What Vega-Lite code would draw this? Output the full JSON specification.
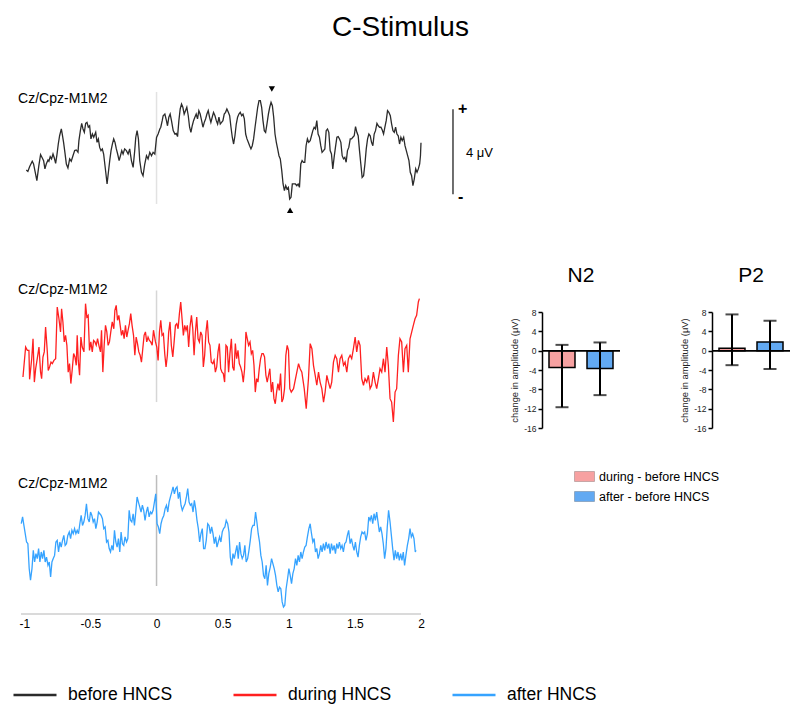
{
"$schema":"https://vega.github.io/schema/vega-lite/v6.json",
"padding":{"left":12,"top":14,"right":5,"bottom":5},
"title":{"text":"C-Stimulus","fontSize":28,"fontWeight":"normal","color":"black","anchor":"start","frame":"group","offset":44,"dx":311},
"bounds":"flush",
"center":true,
"spacing":92,
"config":{"view":{"stroke":null},"font":"Liberation Sans","axis":{"grid":false},"text":{"font":"Liberation Sans","color":"black"},"title":{"font":"Liberation Sans"}},
"datasets":{
"before":[{"t":-0.985,"v":-1.08},{"t":-0.973,"v":-1.15},{"t":-0.96,"v":-0.93},{"t":-0.94,"v":-0.67},{"t":-0.93,"v":-0.8},{"t":-0.915,"v":-1.27},{"t":-0.905,"v":-1.58},{"t":-0.89,"v":-0.88},{"t":-0.877,"v":-0.36},{"t":-0.864,"v":-0.52},{"t":-0.854,"v":-0.64},{"t":-0.844,"v":-1.03},{"t":-0.834,"v":-0.8},{"t":-0.821,"v":-0.61},{"t":-0.814,"v":-0.67},{"t":-0.804,"v":-0.45},{"t":-0.794,"v":-0.56},{"t":-0.783,"v":-0.33},{"t":-0.773,"v":-0.52},{"t":-0.763,"v":-0.77},{"t":-0.753,"v":-0.36},{"t":-0.743,"v":0.14},{"t":-0.733,"v":0.53},{"t":-0.72,"v":0.85},{"t":-0.713,"v":0.61},{"t":-0.703,"v":0.22},{"t":-0.693,"v":-0.25},{"t":-0.682,"v":-0.8},{"t":-0.67,"v":-0.99},{"t":-0.657,"v":-0.56},{"t":-0.645,"v":-0.67},{"t":-0.632,"v":-0.41},{"t":-0.619,"v":-0.17},{"t":-0.607,"v":-0.14},{"t":-0.594,"v":-0.25},{"t":-0.587,"v":0.3},{"t":-0.576,"v":0.77},{"t":-0.566,"v":1.11},{"t":-0.556,"v":0.85},{"t":-0.546,"v":0.69},{"t":-0.536,"v":1.11},{"t":-0.526,"v":1.16},{"t":-0.516,"v":0.93},{"t":-0.506,"v":1.0},{"t":-0.496,"v":0.38},{"t":-0.485,"v":0.61},{"t":-0.475,"v":0.46},{"t":-0.46,"v":0.69},{"t":-0.45,"v":0.22},{"t":-0.44,"v":0.38},{"t":-0.43,"v":-0.02},{"t":-0.42,"v":-0.17},{"t":-0.41,"v":-0.09},{"t":-0.4,"v":-0.33},{"t":-0.384,"v":-1.19},{"t":-0.374,"v":-1.74},{"t":-0.364,"v":-1.19},{"t":-0.354,"v":-0.64},{"t":-0.344,"v":-0.17},{"t":-0.334,"v":0.14},{"t":-0.324,"v":0.38},{"t":-0.314,"v":0.22},{"t":-0.304,"v":-0.09},{"t":-0.294,"v":-0.33},{"t":-0.283,"v":-0.64},{"t":-0.273,"v":-0.41},{"t":-0.263,"v":-0.17},{"t":-0.253,"v":-0.33},{"t":-0.241,"v":-0.09},{"t":-0.228,"v":-0.17},{"t":-0.215,"v":-0.33},{"t":-0.203,"v":-0.09},{"t":-0.19,"v":-0.64},{"t":-0.177,"v":-0.96},{"t":-0.165,"v":-0.17},{"t":-0.157,"v":0.46},{"t":-0.147,"v":0.77},{"t":-0.137,"v":0.38},{"t":-0.127,"v":-0.64},{"t":-0.114,"v":-1.19},{"t":-0.102,"v":-1.35},{"t":-0.089,"v":-0.8},{"t":-0.076,"v":-0.41},{"t":-0.064,"v":-0.56},{"t":-0.051,"v":-0.25},{"t":-0.038,"v":-0.41},{"t":-0.026,"v":-0.25},{"t":-0.013,"v":-0.33},{"t":0.0,"v":0.45},{"t":0.012,"v":0.61},{"t":0.025,"v":0.85},{"t":0.032,"v":0.93},{"t":0.043,"v":1.24},{"t":0.05,"v":1.47},{"t":0.063,"v":1.55},{"t":0.075,"v":1.24},{"t":0.083,"v":1.0},{"t":0.093,"v":1.4},{"t":0.103,"v":1.55},{"t":0.113,"v":1.24},{"t":0.126,"v":0.77},{"t":0.139,"v":0.61},{"t":0.149,"v":0.64},{"t":0.159,"v":0.49},{"t":0.169,"v":1.24},{"t":0.179,"v":1.79},{"t":0.189,"v":2.02},{"t":0.199,"v":1.87},{"t":0.209,"v":1.55},{"t":0.219,"v":1.71},{"t":0.229,"v":1.87},{"t":0.24,"v":1.47},{"t":0.25,"v":0.93},{"t":0.26,"v":0.69},{"t":0.27,"v":1.0},{"t":0.28,"v":1.24},{"t":0.29,"v":1.4},{"t":0.3,"v":1.55},{"t":0.31,"v":1.32},{"t":0.32,"v":1.71},{"t":0.33,"v":1.55},{"t":0.341,"v":1.24},{"t":0.351,"v":0.93},{"t":0.361,"v":1.16},{"t":0.371,"v":1.32},{"t":0.381,"v":1.55},{"t":0.391,"v":1.71},{"t":0.401,"v":1.4},{"t":0.411,"v":1.16},{"t":0.421,"v":1.4},{"t":0.431,"v":1.63},{"t":0.442,"v":1.47},{"t":0.452,"v":1.24},{"t":0.462,"v":1.08},{"t":0.472,"v":1.4},{"t":0.482,"v":1.08},{"t":0.492,"v":1.16},{"t":0.502,"v":1.24},{"t":0.512,"v":1.55},{"t":0.522,"v":1.63},{"t":0.532,"v":1.79},{"t":0.543,"v":1.63},{"t":0.553,"v":1.47},{"t":0.563,"v":0.93},{"t":0.573,"v":0.46},{"t":0.583,"v":0.14},{"t":0.593,"v":0.53},{"t":0.603,"v":1.08},{"t":0.613,"v":1.4},{"t":0.623,"v":1.55},{"t":0.633,"v":1.63},{"t":0.644,"v":1.47},{"t":0.654,"v":1.55},{"t":0.664,"v":1.32},{"t":0.674,"v":0.61},{"t":0.684,"v":0.38},{"t":0.694,"v":0.22},{"t":0.704,"v":0.06},{"t":0.714,"v":-0.09},{"t":0.724,"v":0.06},{"t":0.734,"v":0.38},{"t":0.745,"v":0.93},{"t":0.755,"v":1.4},{"t":0.765,"v":1.87},{"t":0.775,"v":2.18},{"t":0.785,"v":2.18},{"t":0.795,"v":1.87},{"t":0.805,"v":1.24},{"t":0.815,"v":0.77},{"t":0.825,"v":0.69},{"t":0.835,"v":1.08},{"t":0.846,"v":1.55},{"t":0.856,"v":1.87},{"t":0.866,"v":2.1},{"t":0.876,"v":1.94},{"t":0.886,"v":1.4},{"t":0.896,"v":0.61},{"t":0.906,"v":0.22},{"t":0.916,"v":-0.09},{"t":0.926,"v":-0.41},{"t":0.936,"v":-0.56},{"t":0.947,"v":-1.11},{"t":0.957,"v":-1.74},{"t":0.967,"v":-2.05},{"t":0.977,"v":-1.82},{"t":0.987,"v":-1.98},{"t":0.997,"v":-1.9},{"t":1.007,"v":-2.45},{"t":1.017,"v":-2.37},{"t":1.027,"v":-1.74},{"t":1.05,"v":-1.74},{"t":1.061,"v":-1.82},{"t":1.071,"v":-1.74},{"t":1.081,"v":-1.9},{"t":1.091,"v":-0.8},{"t":1.101,"v":-0.64},{"t":1.111,"v":-0.72},{"t":1.121,"v":-0.72},{"t":1.131,"v":0.06},{"t":1.141,"v":0.38},{"t":1.151,"v":0.22},{"t":1.162,"v":0.3},{"t":1.172,"v":0.53},{"t":1.182,"v":0.77},{"t":1.192,"v":0.93},{"t":1.202,"v":0.85},{"t":1.212,"v":1.24},{"t":1.222,"v":0.61},{"t":1.232,"v":0.46},{"t":1.242,"v":0.06},{"t":1.252,"v":-0.25},{"t":1.263,"v":-0.17},{"t":1.273,"v":-0.09},{"t":1.283,"v":0.77},{"t":1.293,"v":0.85},{"t":1.303,"v":0.69},{"t":1.313,"v":-0.17},{"t":1.323,"v":-0.33},{"t":1.333,"v":-1.03},{"t":1.343,"v":-0.49},{"t":1.353,"v":-0.02},{"t":1.364,"v":0.46},{"t":1.374,"v":0.49},{"t":1.384,"v":0.38},{"t":1.394,"v":0.22},{"t":1.404,"v":-0.41},{"t":1.414,"v":-0.56},{"t":1.424,"v":-0.49},{"t":1.434,"v":-0.72},{"t":1.444,"v":-0.17},{"t":1.454,"v":-0.02},{"t":1.465,"v":0.38},{"t":1.475,"v":0.38},{"t":1.485,"v":0.46},{"t":1.495,"v":0.53},{"t":1.505,"v":0.96},{"t":1.515,"v":0.69},{"t":1.525,"v":0.53},{"t":1.535,"v":-0.17},{"t":1.545,"v":-0.8},{"t":1.555,"v":-1.43},{"t":1.566,"v":-1.35},{"t":1.576,"v":-0.8},{"t":1.586,"v":-0.09},{"t":1.596,"v":0.38},{"t":1.606,"v":0.61},{"t":1.616,"v":0.53},{"t":1.626,"v":0.22},{"t":1.636,"v":0.06},{"t":1.646,"v":0.61},{"t":1.656,"v":0.77},{"t":1.667,"v":1.11},{"t":1.677,"v":1.0},{"t":1.687,"v":0.93},{"t":1.697,"v":0.93},{"t":1.707,"v":0.8},{"t":1.717,"v":0.61},{"t":1.727,"v":0.93},{"t":1.737,"v":1.24},{"t":1.747,"v":1.71},{"t":1.757,"v":1.63},{"t":1.768,"v":1.47},{"t":1.778,"v":1.08},{"t":1.788,"v":0.77},{"t":1.798,"v":0.69},{"t":1.808,"v":0.93},{"t":1.818,"v":0.61},{"t":1.828,"v":0.53},{"t":1.838,"v":0.14},{"t":1.848,"v":0.46},{"t":1.858,"v":0.3},{"t":1.869,"v":0.46},{"t":1.879,"v":0.06},{"t":1.889,"v":-0.17},{"t":1.899,"v":-0.41},{"t":1.909,"v":-0.64},{"t":1.919,"v":-1.19},{"t":1.929,"v":-1.35},{"t":1.939,"v":-1.82},{"t":1.949,"v":-1.51},{"t":1.96,"v":-1.03},{"t":1.97,"v":-1.19},{"t":1.98,"v":-1.03},{"t":1.99,"v":-0.8},{"t":1.996,"v":-0.41},{"t":2.0,"v":0.2}],
"during":[{"t":-1.01,"v":-0.94},{"t":-0.99,"v":0.47},{"t":-0.977,"v":0.31},{"t":-0.965,"v":0.31},{"t":-0.96,"v":-1.05},{"t":-0.944,"v":-0.08},{"t":-0.934,"v":0.86},{"t":-0.924,"v":-1.18},{"t":-0.914,"v":-0.55},{"t":-0.902,"v":-0.08},{"t":-0.889,"v":0.47},{"t":-0.877,"v":-0.71},{"t":-0.869,"v":-1.02},{"t":-0.859,"v":0.0},{"t":-0.849,"v":0.24},{"t":-0.839,"v":1.41},{"t":-0.826,"v":0.24},{"t":-0.819,"v":-0.63},{"t":-0.809,"v":-0.47},{"t":-0.798,"v":-0.24},{"t":-0.788,"v":-0.31},{"t":-0.776,"v":-0.16},{"t":-0.763,"v":-0.08},{"t":-0.751,"v":2.35},{"t":-0.738,"v":1.8},{"t":-0.726,"v":1.18},{"t":-0.718,"v":2.27},{"t":-0.708,"v":1.65},{"t":-0.698,"v":0.71},{"t":-0.688,"v":1.02},{"t":-0.678,"v":0.55},{"t":-0.668,"v":-0.71},{"t":-0.658,"v":-0.31},{"t":-0.648,"v":-1.25},{"t":-0.637,"v":-0.55},{"t":-0.627,"v":0.16},{"t":-0.617,"v":0.0},{"t":-0.607,"v":-0.39},{"t":-0.6,"v":1.02},{"t":-0.592,"v":-0.16},{"t":-0.582,"v":-0.86},{"t":-0.572,"v":0.94},{"t":-0.562,"v":0.47},{"t":-0.549,"v":0.24},{"t":-0.537,"v":2.51},{"t":-0.527,"v":1.88},{"t":-0.517,"v":1.96},{"t":-0.507,"v":0.31},{"t":-0.497,"v":0.71},{"t":-0.486,"v":0.24},{"t":-0.476,"v":0.78},{"t":-0.466,"v":0.71},{"t":-0.456,"v":0.55},{"t":-0.446,"v":0.86},{"t":-0.436,"v":0.55},{"t":-0.424,"v":0.24},{"t":-0.416,"v":1.26},{"t":-0.406,"v":-0.71},{"t":-0.396,"v":0.55},{"t":-0.386,"v":1.49},{"t":-0.376,"v":1.18},{"t":-0.366,"v":0.55},{"t":-0.356,"v":0.71},{"t":-0.346,"v":1.18},{"t":-0.335,"v":1.65},{"t":-0.323,"v":1.33},{"t":-0.315,"v":2.2},{"t":-0.305,"v":2.43},{"t":-0.295,"v":1.73},{"t":-0.285,"v":1.96},{"t":-0.275,"v":1.49},{"t":-0.265,"v":1.02},{"t":-0.255,"v":1.26},{"t":-0.245,"v":0.86},{"t":-0.235,"v":1.49},{"t":-0.225,"v":0.94},{"t":-0.215,"v":1.26},{"t":-0.205,"v":1.57},{"t":-0.195,"v":2.04},{"t":-0.185,"v":1.49},{"t":-0.174,"v":1.02},{"t":-0.164,"v":0.08},{"t":-0.154,"v":0.94},{"t":-0.144,"v":0.63},{"t":-0.134,"v":0.24},{"t":-0.124,"v":0.08},{"t":-0.114,"v":-0.24},{"t":-0.104,"v":0.39},{"t":-0.094,"v":1.02},{"t":-0.084,"v":1.18},{"t":-0.074,"v":0.71},{"t":-0.064,"v":0.94},{"t":-0.054,"v":0.78},{"t":-0.044,"v":0.71},{"t":-0.033,"v":0.55},{"t":-0.023,"v":1.26},{"t":-0.008,"v":0.71},{"t":0.002,"v":0.47},{"t":0.012,"v":-0.16},{"t":0.022,"v":1.18},{"t":0.032,"v":1.73},{"t":0.042,"v":1.02},{"t":0.052,"v":1.1},{"t":0.062,"v":0.16},{"t":0.072,"v":-0.47},{"t":0.082,"v":0.08},{"t":0.092,"v":1.18},{"t":0.102,"v":1.65},{"t":0.112,"v":0.55},{"t":0.123,"v":0.0},{"t":0.133,"v":0.71},{"t":0.143,"v":1.49},{"t":0.153,"v":1.57},{"t":0.163,"v":1.33},{"t":0.173,"v":2.04},{"t":0.183,"v":2.59},{"t":0.193,"v":1.8},{"t":0.203,"v":1.02},{"t":0.213,"v":1.49},{"t":0.223,"v":1.26},{"t":0.233,"v":1.49},{"t":0.243,"v":0.47},{"t":0.253,"v":1.41},{"t":0.264,"v":1.96},{"t":0.274,"v":1.33},{"t":0.284,"v":0.08},{"t":0.294,"v":1.18},{"t":0.304,"v":1.88},{"t":0.314,"v":0.86},{"t":0.324,"v":0.71},{"t":0.334,"v":1.18},{"t":0.344,"v":1.02},{"t":0.354,"v":-0.47},{"t":0.364,"v":0.08},{"t":0.374,"v":1.18},{"t":0.384,"v":1.73},{"t":0.394,"v":0.71},{"t":0.404,"v":0.55},{"t":0.414,"v":-0.24},{"t":0.425,"v":-0.31},{"t":0.435,"v":-0.16},{"t":0.445,"v":-0.71},{"t":0.455,"v":-0.47},{"t":0.465,"v":0.24},{"t":0.475,"v":0.63},{"t":0.485,"v":-0.55},{"t":0.495,"v":-0.71},{"t":0.505,"v":-0.78},{"t":0.515,"v":-1.18},{"t":0.525,"v":0.55},{"t":0.535,"v":0.47},{"t":0.545,"v":-0.71},{"t":0.555,"v":0.16},{"t":0.566,"v":0.86},{"t":0.576,"v":-0.47},{"t":0.586,"v":-0.63},{"t":0.596,"v":0.63},{"t":0.606,"v":-0.08},{"t":0.616,"v":0.31},{"t":0.626,"v":-0.31},{"t":0.636,"v":-0.47},{"t":0.646,"v":-0.71},{"t":0.656,"v":-1.18},{"t":0.666,"v":-0.55},{"t":0.676,"v":1.18},{"t":0.686,"v":0.86},{"t":0.696,"v":0.55},{"t":0.707,"v":0.71},{"t":0.717,"v":0.16},{"t":0.727,"v":0.31},{"t":0.737,"v":-0.39},{"t":0.747,"v":-1.65},{"t":0.757,"v":-1.02},{"t":0.767,"v":-1.18},{"t":0.777,"v":-0.55},{"t":0.787,"v":-0.08},{"t":0.797,"v":0.16},{"t":0.807,"v":0.16},{"t":0.817,"v":0.0},{"t":0.827,"v":-0.86},{"t":0.837,"v":-1.18},{"t":0.847,"v":-0.86},{"t":0.857,"v":-0.55},{"t":0.868,"v":-1.65},{"t":0.878,"v":-1.18},{"t":0.888,"v":-1.96},{"t":0.898,"v":-2.2},{"t":0.908,"v":-1.65},{"t":0.918,"v":-1.25},{"t":0.928,"v":-1.57},{"t":0.938,"v":-0.78},{"t":0.948,"v":-2.12},{"t":0.958,"v":-1.96},{"t":0.968,"v":-1.49},{"t":0.978,"v":0.08},{"t":0.988,"v":0.55},{"t":0.998,"v":0.31},{"t":1.008,"v":-1.49},{"t":1.019,"v":-1.65},{"t":1.036,"v":-1.49},{"t":1.061,"v":-0.71},{"t":1.074,"v":-0.31},{"t":1.086,"v":-0.55},{"t":1.099,"v":-0.71},{"t":1.117,"v":-1.49},{"t":1.132,"v":-2.43},{"t":1.149,"v":-1.02},{"t":1.162,"v":0.63},{"t":1.175,"v":0.39},{"t":1.187,"v":-0.39},{"t":1.2,"v":-0.86},{"t":1.212,"v":-1.33},{"t":1.225,"v":-0.71},{"t":1.237,"v":-1.18},{"t":1.25,"v":-1.49},{"t":1.263,"v":-2.12},{"t":1.275,"v":-1.65},{"t":1.288,"v":-0.86},{"t":1.3,"v":-1.18},{"t":1.313,"v":-1.49},{"t":1.325,"v":-1.18},{"t":1.338,"v":-0.24},{"t":1.351,"v":0.08},{"t":1.363,"v":-0.08},{"t":1.376,"v":-0.71},{"t":1.388,"v":-0.08},{"t":1.401,"v":0.08},{"t":1.414,"v":-0.39},{"t":1.426,"v":-0.24},{"t":1.439,"v":-0.71},{"t":1.451,"v":-0.08},{"t":1.464,"v":0.08},{"t":1.476,"v":-0.08},{"t":1.489,"v":0.39},{"t":1.502,"v":0.94},{"t":1.514,"v":0.24},{"t":1.527,"v":0.78},{"t":1.539,"v":0.55},{"t":1.552,"v":-1.02},{"t":1.565,"v":-1.33},{"t":1.577,"v":-1.02},{"t":1.59,"v":-1.18},{"t":1.602,"v":-0.86},{"t":1.615,"v":-1.49},{"t":1.627,"v":-1.33},{"t":1.64,"v":-0.71},{"t":1.653,"v":-1.18},{"t":1.665,"v":-1.49},{"t":1.678,"v":-1.02},{"t":1.69,"v":-0.55},{"t":1.703,"v":-0.71},{"t":1.716,"v":-0.08},{"t":1.728,"v":-0.71},{"t":1.741,"v":0.47},{"t":1.753,"v":-0.39},{"t":1.766,"v":-1.96},{"t":1.778,"v":-2.12},{"t":1.791,"v":-3.06},{"t":1.804,"v":-1.65},{"t":1.816,"v":-1.49},{"t":1.829,"v":0.08},{"t":1.841,"v":0.86},{"t":1.854,"v":0.71},{"t":1.867,"v":-0.71},{"t":1.879,"v":0.39},{"t":1.892,"v":0.55},{"t":1.904,"v":-0.71},{"t":1.917,"v":0.86},{"t":1.93,"v":1.18},{"t":1.942,"v":1.49},{"t":1.955,"v":1.8},{"t":1.967,"v":1.96},{"t":1.98,"v":2.59},{"t":1.988,"v":2.75}],
"after":[{"t":-1.023,"v":0.86},{"t":-1.013,"v":1.18},{"t":-1.003,"v":0.78},{"t":-0.993,"v":0.39},{"t":-0.983,"v":0.0},{"t":-0.973,"v":-0.08},{"t":-0.963,"v":-1.25},{"t":-0.953,"v":-1.8},{"t":-0.942,"v":-1.25},{"t":-0.932,"v":-0.39},{"t":-0.922,"v":-0.94},{"t":-0.912,"v":-0.55},{"t":-0.902,"v":-0.78},{"t":-0.892,"v":-0.31},{"t":-0.882,"v":-0.94},{"t":-0.872,"v":-0.47},{"t":-0.862,"v":-0.78},{"t":-0.852,"v":-0.39},{"t":-0.842,"v":-0.94},{"t":-0.832,"v":-0.71},{"t":-0.821,"v":-1.1},{"t":-0.811,"v":-0.94},{"t":-0.801,"v":-1.65},{"t":-0.791,"v":-0.94},{"t":-0.781,"v":-0.78},{"t":-0.771,"v":-0.63},{"t":-0.761,"v":0.0},{"t":-0.751,"v":0.08},{"t":-0.741,"v":-0.47},{"t":-0.731,"v":0.0},{"t":-0.721,"v":-0.24},{"t":-0.711,"v":0.08},{"t":-0.701,"v":0.31},{"t":-0.691,"v":-0.16},{"t":-0.681,"v":-0.08},{"t":-0.671,"v":0.31},{"t":-0.66,"v":0.47},{"t":-0.65,"v":0.16},{"t":-0.64,"v":0.55},{"t":-0.63,"v":0.39},{"t":-0.62,"v":0.63},{"t":-0.61,"v":0.39},{"t":-0.6,"v":0.55},{"t":-0.59,"v":0.39},{"t":-0.58,"v":0.86},{"t":-0.57,"v":1.25},{"t":-0.56,"v":0.78},{"t":-0.55,"v":0.94},{"t":-0.54,"v":1.25},{"t":-0.53,"v":1.8},{"t":-0.519,"v":1.1},{"t":-0.509,"v":0.94},{"t":-0.499,"v":1.41},{"t":-0.489,"v":1.25},{"t":-0.479,"v":0.94},{"t":-0.469,"v":1.1},{"t":-0.459,"v":0.63},{"t":-0.449,"v":0.94},{"t":-0.439,"v":1.41},{"t":-0.429,"v":1.33},{"t":-0.419,"v":1.25},{"t":-0.409,"v":1.1},{"t":-0.399,"v":0.63},{"t":-0.389,"v":0.71},{"t":-0.378,"v":0.0},{"t":-0.368,"v":0.08},{"t":-0.358,"v":-0.31},{"t":-0.348,"v":-0.47},{"t":-0.338,"v":-0.16},{"t":-0.328,"v":-0.39},{"t":-0.318,"v":0.55},{"t":-0.308,"v":0.0},{"t":-0.298,"v":-0.24},{"t":-0.288,"v":0.16},{"t":-0.278,"v":-0.47},{"t":-0.268,"v":0.47},{"t":-0.258,"v":-0.08},{"t":-0.248,"v":-0.16},{"t":-0.238,"v":0.24},{"t":-0.227,"v":0.0},{"t":-0.217,"v":0.16},{"t":-0.207,"v":1.49},{"t":-0.197,"v":1.02},{"t":-0.187,"v":0.94},{"t":-0.177,"v":1.33},{"t":-0.167,"v":0.78},{"t":-0.157,"v":1.41},{"t":-0.147,"v":2.12},{"t":-0.137,"v":1.88},{"t":-0.127,"v":1.65},{"t":-0.117,"v":1.41},{"t":-0.107,"v":1.73},{"t":-0.097,"v":1.49},{"t":-0.087,"v":1.02},{"t":-0.077,"v":1.41},{"t":-0.067,"v":1.65},{"t":-0.056,"v":1.18},{"t":-0.046,"v":1.41},{"t":-0.036,"v":1.33},{"t":-0.026,"v":1.49},{"t":-0.016,"v":1.88},{"t":-0.006,"v":2.27},{"t":0.004,"v":0.86},{"t":0.014,"v":0.71},{"t":0.024,"v":0.39},{"t":0.034,"v":0.86},{"t":0.044,"v":1.1},{"t":0.055,"v":1.25},{"t":0.065,"v":1.57},{"t":0.075,"v":1.73},{"t":0.085,"v":1.41},{"t":0.095,"v":1.88},{"t":0.105,"v":2.12},{"t":0.115,"v":2.35},{"t":0.125,"v":2.59},{"t":0.135,"v":2.27},{"t":0.145,"v":2.51},{"t":0.155,"v":2.59},{"t":0.165,"v":2.04},{"t":0.175,"v":2.35},{"t":0.185,"v":1.73},{"t":0.195,"v":1.49},{"t":0.205,"v":1.65},{"t":0.216,"v":1.8},{"t":0.226,"v":2.12},{"t":0.236,"v":2.51},{"t":0.246,"v":1.88},{"t":0.256,"v":1.73},{"t":0.266,"v":1.8},{"t":0.276,"v":1.41},{"t":0.286,"v":1.96},{"t":0.296,"v":1.57},{"t":0.306,"v":1.02},{"t":0.316,"v":0.63},{"t":0.326,"v":0.0},{"t":0.336,"v":0.39},{"t":0.346,"v":0.63},{"t":0.356,"v":-0.31},{"t":0.366,"v":-0.31},{"t":0.376,"v":0.08},{"t":0.387,"v":0.86},{"t":0.397,"v":0.78},{"t":0.407,"v":0.39},{"t":0.417,"v":0.71},{"t":0.427,"v":0.39},{"t":0.437,"v":-0.08},{"t":0.447,"v":0.24},{"t":0.457,"v":-0.24},{"t":0.467,"v":0.0},{"t":0.477,"v":0.24},{"t":0.487,"v":0.0},{"t":0.497,"v":0.47},{"t":0.507,"v":0.63},{"t":0.517,"v":0.71},{"t":0.527,"v":1.02},{"t":0.538,"v":0.86},{"t":0.548,"v":0.47},{"t":0.558,"v":-0.71},{"t":0.568,"v":-1.1},{"t":0.578,"v":-0.55},{"t":0.588,"v":-0.78},{"t":0.598,"v":-0.47},{"t":0.608,"v":-0.16},{"t":0.618,"v":-0.78},{"t":0.628,"v":0.0},{"t":0.638,"v":-0.55},{"t":0.648,"v":-0.78},{"t":0.658,"v":-0.63},{"t":0.668,"v":-0.16},{"t":0.678,"v":-0.94},{"t":0.689,"v":-0.78},{"t":0.699,"v":-0.39},{"t":0.709,"v":0.08},{"t":0.719,"v":0.63},{"t":0.729,"v":0.78},{"t":0.739,"v":0.78},{"t":0.749,"v":1.41},{"t":0.759,"v":0.94},{"t":0.769,"v":0.39},{"t":0.779,"v":0.0},{"t":0.789,"v":-0.63},{"t":0.799,"v":-0.94},{"t":0.809,"v":-1.57},{"t":0.819,"v":-1.73},{"t":0.829,"v":-1.1},{"t":0.839,"v":-2.04},{"t":0.849,"v":-1.49},{"t":0.86,"v":-1.18},{"t":0.87,"v":-0.78},{"t":0.88,"v":-1.02},{"t":0.89,"v":-1.25},{"t":0.9,"v":-1.57},{"t":0.91,"v":-2.04},{"t":0.92,"v":-2.35},{"t":0.93,"v":-2.12},{"t":0.94,"v":-2.2},{"t":0.95,"v":-2.82},{"t":0.96,"v":-3.06},{"t":0.97,"v":-2.98},{"t":0.98,"v":-2.2},{"t":0.991,"v":-1.73},{"t":1.001,"v":-1.25},{"t":1.011,"v":-1.57},{"t":1.021,"v":-1.96},{"t":1.031,"v":-1.49},{"t":1.041,"v":-1.25},{"t":1.051,"v":-0.78},{"t":1.061,"v":-1.1},{"t":1.071,"v":-0.63},{"t":1.081,"v":-0.94},{"t":1.091,"v":-0.47},{"t":1.101,"v":-0.78},{"t":1.111,"v":-0.47},{"t":1.121,"v":-0.24},{"t":1.131,"v":-0.16},{"t":1.141,"v":0.24},{"t":1.152,"v":0.63},{"t":1.162,"v":0.86},{"t":1.172,"v":0.39},{"t":1.182,"v":0.0},{"t":1.192,"v":0.16},{"t":1.202,"v":-0.47},{"t":1.212,"v":-0.31},{"t":1.222,"v":-0.78},{"t":1.232,"v":-0.55},{"t":1.242,"v":-0.16},{"t":1.252,"v":-0.47},{"t":1.262,"v":-0.08},{"t":1.272,"v":-0.39},{"t":1.282,"v":0.0},{"t":1.293,"v":-0.31},{"t":1.303,"v":-0.08},{"t":1.313,"v":-0.55},{"t":1.323,"v":-0.08},{"t":1.333,"v":-0.39},{"t":1.343,"v":-0.16},{"t":1.353,"v":-0.55},{"t":1.363,"v":-0.08},{"t":1.373,"v":-0.31},{"t":1.383,"v":0.0},{"t":1.393,"v":-0.31},{"t":1.403,"v":-0.16},{"t":1.413,"v":-0.47},{"t":1.423,"v":-0.08},{"t":1.433,"v":0.0},{"t":1.443,"v":0.31},{"t":1.453,"v":0.55},{"t":1.464,"v":-0.08},{"t":1.474,"v":0.16},{"t":1.484,"v":-0.16},{"t":1.494,"v":-0.39},{"t":1.504,"v":0.0},{"t":1.514,"v":-0.47},{"t":1.524,"v":-0.71},{"t":1.534,"v":-0.16},{"t":1.544,"v":0.24},{"t":1.554,"v":0.47},{"t":1.564,"v":0.39},{"t":1.574,"v":0.47},{"t":1.584,"v":0.08},{"t":1.595,"v":0.39},{"t":1.605,"v":1.18},{"t":1.615,"v":1.02},{"t":1.625,"v":1.25},{"t":1.635,"v":0.86},{"t":1.645,"v":1.33},{"t":1.655,"v":1.02},{"t":1.665,"v":1.41},{"t":1.675,"v":0.94},{"t":1.685,"v":0.47},{"t":1.695,"v":0.71},{"t":1.705,"v":0.39},{"t":1.715,"v":-0.08},{"t":1.725,"v":-0.78},{"t":1.735,"v":-0.31},{"t":1.745,"v":0.71},{"t":1.755,"v":1.49},{"t":1.766,"v":0.94},{"t":1.776,"v":0.31},{"t":1.786,"v":-0.31},{"t":1.796,"v":-0.86},{"t":1.806,"v":-0.39},{"t":1.816,"v":-0.78},{"t":1.826,"v":-0.47},{"t":1.836,"v":-0.86},{"t":1.846,"v":-0.55},{"t":1.856,"v":-0.86},{"t":1.866,"v":-0.47},{"t":1.876,"v":-1.1},{"t":1.886,"v":-0.63},{"t":1.897,"v":-0.16},{"t":1.907,"v":0.16},{"t":1.917,"v":0.63},{"t":1.927,"v":0.24},{"t":1.937,"v":0.39},{"t":1.947,"v":0.16},{"t":1.957,"v":-0.47},{"t":1.962,"v":-0.39}],
"amp":[{"peak":"N2","diff":"during - before HNCS","mean":-3.5,"lo":-11.7,"hi":1.2},{"peak":"N2","diff":"after - before HNCS","mean":-3.7,"lo":-9.2,"hi":1.7},{"peak":"P2","diff":"during - before HNCS","mean":0.5,"lo":-3.0,"hi":7.5},{"peak":"P2","diff":"after - before HNCS","mean":1.8,"lo":-3.8,"hi":6.2}]
},
"hconcat":[
{"width":429,"height":488,
 "resolve":{"scale":{"y":"independent"}},
 "layer":[
  {"layer":[
   {"data":{"values":[{"event":"stimulus onset"}]},"mark":{"type":"rule","color":"#e2e2e2","strokeWidth":1.5},"encoding":{"x":{"datum":0,"axis":{"values":[-1,-0.5,0,0.5,1,1.5,2],"format":"~g","title":null,"labelFontSize":12,"labelColor":"black","labelPadding":4,"ticks":false,"domain":false,"labelFlush":false,"labelOverlap":false,"labelExpr":"replace(datum.label, '−', '-')"}},"y":{"datum":2.59,"axis":null},"y2":{"datum":-2.68}}},
   {"data":{"name":"before"},"mark":{"type":"line","strokeWidth":1.3},"encoding":{"x":{"field":"t","type":"quantitative","scale":{"domain":[-1.025,2.2194],"nice":false,"zero":false},"axis":{"values":[-1,-0.5,0,0.5,1,1.5,2],"format":"~g","title":null,"labelFontSize":12,"labelColor":"black","labelPadding":4,"ticks":false,"domain":false,"labelFlush":false,"labelOverlap":false,"labelExpr":"replace(datum.label, '−', '-')"}},"y":{"field":"v","type":"quantitative","scale":{"domain":[-21.976,0.988],"nice":false,"zero":false},"axis":null},"color":{"datum":"before HNCS","scale":{"domain":["before HNCS","during HNCS","after HNCS"],"range":["#2b2b2b","#ff2020","#36a3ff"]},"legend":{"orient":"none","legendX":-9,"legendY":546,"direction":"horizontal","gridAlign":"none","title":null,"symbolType":"stroke","symbolSize":1850,"symbolStrokeWidth":2.5,"labelFontSize":17.5,"labelColor":"black","labelOffset":10,"columnPadding":55,"padding":0,"labelLimit":300}}}},
   {"data":{"values":[{"label":"Cz/Cpz-M1M2"}]},"mark":{"type":"text","align":"left","baseline":"middle","fontSize":14},"encoding":{"text":{"field":"label"},"x":{"datum":-1.047,"axis":{"values":[-1,-0.5,0,0.5,1,1.5,2],"format":"~g","title":null,"labelFontSize":12,"labelColor":"black","labelPadding":4,"ticks":false,"domain":false,"labelFlush":false,"labelOverlap":false,"labelExpr":"replace(datum.label, '−', '-')"}},"y":{"datum":2.24,"axis":null}}},
   {"data":{"values":[{"marker":"peak"}]},"mark":{"type":"point","shape":"triangle-down","filled":true,"color":"black","size":40,"opacity":1},"encoding":{"x":{"datum":0.872,"axis":{"values":[-1,-0.5,0,0.5,1,1.5,2],"format":"~g","title":null,"labelFontSize":12,"labelColor":"black","labelPadding":4,"ticks":false,"domain":false,"labelFlush":false,"labelOverlap":false,"labelExpr":"replace(datum.label, '−', '-')"}},"y":{"datum":2.73,"axis":null}}},
   {"data":{"values":[{"marker":"trough"}]},"mark":{"type":"point","shape":"triangle-up","filled":true,"color":"black","size":40,"opacity":1},"encoding":{"x":{"datum":1.01,"axis":{"values":[-1,-0.5,0,0.5,1,1.5,2],"format":"~g","title":null,"labelFontSize":12,"labelColor":"black","labelPadding":4,"ticks":false,"domain":false,"labelFlush":false,"labelOverlap":false,"labelExpr":"replace(datum.label, '−', '-')"}},"y":{"datum":-2.98,"axis":null}}},
   {"data":{"values":[{"scale":"4 μV"}]},"mark":{"type":"rule","color":"#222","strokeWidth":1.3},"encoding":{"x":{"datum":2.242,"axis":{"values":[-1,-0.5,0,0.5,1,1.5,2],"format":"~g","title":null,"labelFontSize":12,"labelColor":"black","labelPadding":4,"ticks":false,"domain":false,"labelFlush":false,"labelOverlap":false,"labelExpr":"replace(datum.label, '−', '-')"}},"y":{"datum":1.78,"axis":null},"y2":{"datum":-2.22}}},
   {"data":{"values":[{"label":"+"}]},"mark":{"type":"text","align":"center","baseline":"middle","fontSize":16,"fontWeight":"bold"},"encoding":{"text":{"field":"label"},"x":{"datum":2.316,"axis":{"values":[-1,-0.5,0,0.5,1,1.5,2],"format":"~g","title":null,"labelFontSize":12,"labelColor":"black","labelPadding":4,"ticks":false,"domain":false,"labelFlush":false,"labelOverlap":false,"labelExpr":"replace(datum.label, '−', '-')"}},"y":{"datum":1.8,"axis":null}}},
   {"data":{"values":[{"label":"-"}]},"mark":{"type":"text","align":"center","baseline":"middle","fontSize":16,"fontWeight":"bold"},"encoding":{"text":{"field":"label"},"x":{"datum":2.3,"axis":{"values":[-1,-0.5,0,0.5,1,1.5,2],"format":"~g","title":null,"labelFontSize":12,"labelColor":"black","labelPadding":4,"ticks":false,"domain":false,"labelFlush":false,"labelOverlap":false,"labelExpr":"replace(datum.label, '−', '-')"}},"y":{"datum":-2.35,"axis":null}}},
   {"data":{"values":[{"label":"4 μV"}]},"mark":{"type":"text","align":"left","baseline":"middle","fontSize":13},"encoding":{"text":{"field":"label"},"x":{"datum":2.34,"axis":{"values":[-1,-0.5,0,0.5,1,1.5,2],"format":"~g","title":null,"labelFontSize":12,"labelColor":"black","labelPadding":4,"ticks":false,"domain":false,"labelFlush":false,"labelOverlap":false,"labelExpr":"replace(datum.label, '−', '-')"}},"y":{"datum":-0.28,"axis":null}}}
  ]},
  {"layer":[
   {"data":{"values":[{"event":"stimulus onset"}]},"mark":{"type":"rule","color":"#d6d6d6","strokeWidth":1.5},"encoding":{"x":{"datum":0,"axis":{"values":[-1,-0.5,0,0.5,1,1.5,2],"format":"~g","title":null,"labelFontSize":12,"labelColor":"black","labelPadding":4,"ticks":false,"domain":false,"labelFlush":false,"labelOverlap":false,"labelExpr":"replace(datum.label, '−', '-')"}},"y":{"datum":3.13,"axis":null},"y2":{"datum":-2.12}}},
   {"data":{"name":"during"},"mark":{"type":"line","strokeWidth":1.3},"encoding":{"x":{"field":"t","type":"quantitative","scale":{"domain":[-1.025,2.2194],"nice":false,"zero":false},"axis":{"values":[-1,-0.5,0,0.5,1,1.5,2],"format":"~g","title":null,"labelFontSize":12,"labelColor":"black","labelPadding":4,"ticks":false,"domain":false,"labelFlush":false,"labelOverlap":false,"labelExpr":"replace(datum.label, '−', '-')"}},"y":{"field":"v","type":"quantitative","scale":{"domain":[-12.094,10.871],"nice":false,"zero":false},"axis":null},"color":{"datum":"during HNCS","scale":{"domain":["before HNCS","during HNCS","after HNCS"],"range":["#2b2b2b","#ff2020","#36a3ff"]},"legend":{"orient":"none","legendX":-9,"legendY":546,"direction":"horizontal","gridAlign":"none","title":null,"symbolType":"stroke","symbolSize":1850,"symbolStrokeWidth":2.5,"labelFontSize":17.5,"labelColor":"black","labelOffset":10,"columnPadding":55,"padding":0,"labelLimit":300}}}},
   {"data":{"values":[{"label":"Cz/Cpz-M1M2"}]},"mark":{"type":"text","align":"left","baseline":"middle","fontSize":14},"encoding":{"text":{"field":"label"},"x":{"datum":-1.047,"axis":{"values":[-1,-0.5,0,0.5,1,1.5,2],"format":"~g","title":null,"labelFontSize":12,"labelColor":"black","labelPadding":4,"ticks":false,"domain":false,"labelFlush":false,"labelOverlap":false,"labelExpr":"replace(datum.label, '−', '-')"}},"y":{"datum":3.13,"axis":null}}}
  ]},
  {"layer":[
   {"data":{"values":[{"event":"stimulus onset"}]},"mark":{"type":"rule","color":"#bdbdbd","strokeWidth":1.5},"encoding":{"x":{"datum":0,"axis":{"values":[-1,-0.5,0,0.5,1,1.5,2],"format":"~g","title":null,"labelFontSize":12,"labelColor":"black","labelPadding":4,"ticks":false,"domain":false,"labelFlush":false,"labelOverlap":false,"labelExpr":"replace(datum.label, '−', '-')"}},"y":{"datum":3.15,"axis":null},"y2":{"datum":-2.07}}},
   {"data":{"values":[{"axis":"time"}]},"mark":{"type":"rule","color":"#b5b5b5","strokeWidth":1},"encoding":{"x":{"datum":-1.025,"axis":{"values":[-1,-0.5,0,0.5,1,1.5,2],"format":"~g","title":null,"labelFontSize":12,"labelColor":"black","labelPadding":4,"ticks":false,"domain":false,"labelFlush":false,"labelOverlap":false,"labelExpr":"replace(datum.label, '−', '-')"}},"x2":{"datum":2},"y":{"datum":-3.388,"axis":null}}},
   {"data":{"name":"after"},"mark":{"type":"line","strokeWidth":1.3},"encoding":{"x":{"field":"t","type":"quantitative","scale":{"domain":[-1.025,2.2194],"nice":false,"zero":false},"axis":{"values":[-1,-0.5,0,0.5,1,1.5,2],"format":"~g","title":null,"labelFontSize":12,"labelColor":"black","labelPadding":4,"ticks":false,"domain":false,"labelFlush":false,"labelOverlap":false,"labelExpr":"replace(datum.label, '−', '-')"}},"y":{"field":"v","type":"quantitative","scale":{"domain":[-3.388,19.576],"nice":false,"zero":false},"axis":null},"color":{"datum":"after HNCS","scale":{"domain":["before HNCS","during HNCS","after HNCS"],"range":["#2b2b2b","#ff2020","#36a3ff"]},"legend":{"orient":"none","legendX":-9,"legendY":546,"direction":"horizontal","gridAlign":"none","title":null,"symbolType":"stroke","symbolSize":1850,"symbolStrokeWidth":2.5,"labelFontSize":17.5,"labelColor":"black","labelOffset":10,"columnPadding":55,"padding":0,"labelLimit":300}}}},
   {"data":{"values":[{"label":"Cz/Cpz-M1M2"}]},"mark":{"type":"text","align":"left","baseline":"middle","fontSize":14},"encoding":{"text":{"field":"label"},"x":{"datum":-1.047,"axis":{"values":[-1,-0.5,0,0.5,1,1.5,2],"format":"~g","title":null,"labelFontSize":12,"labelColor":"black","labelPadding":4,"ticks":false,"domain":false,"labelFlush":false,"labelOverlap":false,"labelExpr":"replace(datum.label, '−', '-')"}},"y":{"datum":2.71,"axis":null}}}
  ]}
 ]},
{"width":78,"height":116,"title":{"text":"N2","fontSize":21,"fontWeight":"normal","color":"black","offset":22,"anchor":"middle"},
 "data":{"name":"amp"},"transform":[{"filter":"datum.peak === 'N2'"}],
 "layer":[
  {"mark":{"type":"bar","stroke":"black","strokeWidth":1.5},"encoding":{"x":{"field":"diff","type":"nominal","scale":{"domain":["during - before HNCS","after - before HNCS"],"paddingInner":0.316,"paddingOuter":0.184},"axis":null},"y":{"field":"mean","type":"quantitative","scale":{"domain":[-16,8],"nice":false},"axis":{"values":[-16,-12,-8,-4,0,4,8],"labelOverlap":false,"title":"change in amplitude (μV)","titleFontSize":9.4,"titleFontWeight":"normal","titleColor":"#222","titlePadding":4,"labelFontSize":8.5,"labelColor":"#222","labelPadding":2,"tickSize":4,"tickWidth":1.5,"tickColor":"black","domainColor":"black","domainWidth":1.5,"labelExpr":"replace(datum.label, '−', '-')"}},"fill":{"field":"diff","type":"nominal","scale":{"domain":["during - before HNCS","after - before HNCS"],"range":["#f7a1a1","#62a9f2"]},"legend":{"orient":"none","legendX":553,"legendY":340,"direction":"vertical","title":null,"symbolType":"M-1,-0.5H1V0.5H-1Z","symbolSize":400,"symbolStrokeWidth":0.8,"symbolStrokeColor":"rgba(0,0,0,0.25)","labelFontSize":12.5,"labelColor":"black","labelOffset":4,"rowPadding":2,"padding":0}}}},
  {"mark":{"type":"rule","color":"black","strokeWidth":1.5},"encoding":{"y":{"datum":0,"axis":{"values":[-16,-12,-8,-4,0,4,8],"labelOverlap":false,"title":"change in amplitude (μV)","titleFontSize":9.4,"titleFontWeight":"normal","titleColor":"#222","titlePadding":4,"labelFontSize":8.5,"labelColor":"#222","labelPadding":2,"tickSize":4,"tickWidth":1.5,"tickColor":"black","domainColor":"black","domainWidth":1.5,"labelExpr":"replace(datum.label, '−', '-')"}}}},
  {"mark":{"type":"rule","color":"black","strokeWidth":2},"encoding":{"x":{"field":"diff","type":"nominal","axis":null},"y":{"field":"lo","type":"quantitative","axis":{"values":[-16,-12,-8,-4,0,4,8],"labelOverlap":false,"title":"change in amplitude (μV)","titleFontSize":9.4,"titleFontWeight":"normal","titleColor":"#222","titlePadding":4,"labelFontSize":8.5,"labelColor":"#222","labelPadding":2,"tickSize":4,"tickWidth":1.5,"tickColor":"black","domainColor":"black","domainWidth":1.5,"labelExpr":"replace(datum.label, '−', '-')"}},"y2":{"field":"hi"}}},
  {"mark":{"type":"tick","color":"black","thickness":2,"size":13},"encoding":{"x":{"field":"diff","type":"nominal","axis":null},"y":{"field":"hi","type":"quantitative","axis":{"values":[-16,-12,-8,-4,0,4,8],"labelOverlap":false,"title":"change in amplitude (μV)","titleFontSize":9.4,"titleFontWeight":"normal","titleColor":"#222","titlePadding":4,"labelFontSize":8.5,"labelColor":"#222","labelPadding":2,"tickSize":4,"tickWidth":1.5,"tickColor":"black","domainColor":"black","domainWidth":1.5,"labelExpr":"replace(datum.label, '−', '-')"}}}},
  {"mark":{"type":"tick","color":"black","thickness":2,"size":13},"encoding":{"x":{"field":"diff","type":"nominal","axis":null},"y":{"field":"lo","type":"quantitative","axis":{"values":[-16,-12,-8,-4,0,4,8],"labelOverlap":false,"title":"change in amplitude (μV)","titleFontSize":9.4,"titleFontWeight":"normal","titleColor":"#222","titlePadding":4,"labelFontSize":8.5,"labelColor":"#222","labelPadding":2,"tickSize":4,"tickWidth":1.5,"tickColor":"black","domainColor":"black","domainWidth":1.5,"labelExpr":"replace(datum.label, '−', '-')"}}}}
 ]},
{"width":78,"height":116,"title":{"text":"P2","fontSize":21,"fontWeight":"normal","color":"black","offset":22,"anchor":"middle"},
 "data":{"name":"amp"},"transform":[{"filter":"datum.peak === 'P2'"}],
 "layer":[
  {"mark":{"type":"bar","stroke":"black","strokeWidth":1.5},"encoding":{"x":{"field":"diff","type":"nominal","scale":{"domain":["during - before HNCS","after - before HNCS"],"paddingInner":0.316,"paddingOuter":0.184},"axis":null},"y":{"field":"mean","type":"quantitative","scale":{"domain":[-16,8],"nice":false},"axis":{"values":[-16,-12,-8,-4,0,4,8],"labelOverlap":false,"title":"change in amplitude (μV)","titleFontSize":9.4,"titleFontWeight":"normal","titleColor":"#222","titlePadding":4,"labelFontSize":8.5,"labelColor":"#222","labelPadding":2,"tickSize":4,"tickWidth":1.5,"tickColor":"black","domainColor":"black","domainWidth":1.5,"labelExpr":"replace(datum.label, '−', '-')"}},"fill":{"field":"diff","type":"nominal","scale":{"domain":["during - before HNCS","after - before HNCS"],"range":["#f7a1a1","#62a9f2"]},"legend":{"orient":"none","legendX":553,"legendY":340,"direction":"vertical","title":null,"symbolType":"M-1,-0.5H1V0.5H-1Z","symbolSize":400,"symbolStrokeWidth":0.8,"symbolStrokeColor":"rgba(0,0,0,0.25)","labelFontSize":12.5,"labelColor":"black","labelOffset":4,"rowPadding":2,"padding":0}}}},
  {"mark":{"type":"rule","color":"black","strokeWidth":1.5},"encoding":{"y":{"datum":0,"axis":{"values":[-16,-12,-8,-4,0,4,8],"labelOverlap":false,"title":"change in amplitude (μV)","titleFontSize":9.4,"titleFontWeight":"normal","titleColor":"#222","titlePadding":4,"labelFontSize":8.5,"labelColor":"#222","labelPadding":2,"tickSize":4,"tickWidth":1.5,"tickColor":"black","domainColor":"black","domainWidth":1.5,"labelExpr":"replace(datum.label, '−', '-')"}}}},
  {"mark":{"type":"rule","color":"black","strokeWidth":2},"encoding":{"x":{"field":"diff","type":"nominal","axis":null},"y":{"field":"lo","type":"quantitative","axis":{"values":[-16,-12,-8,-4,0,4,8],"labelOverlap":false,"title":"change in amplitude (μV)","titleFontSize":9.4,"titleFontWeight":"normal","titleColor":"#222","titlePadding":4,"labelFontSize":8.5,"labelColor":"#222","labelPadding":2,"tickSize":4,"tickWidth":1.5,"tickColor":"black","domainColor":"black","domainWidth":1.5,"labelExpr":"replace(datum.label, '−', '-')"}},"y2":{"field":"hi"}}},
  {"mark":{"type":"tick","color":"black","thickness":2,"size":13},"encoding":{"x":{"field":"diff","type":"nominal","axis":null},"y":{"field":"hi","type":"quantitative","axis":{"values":[-16,-12,-8,-4,0,4,8],"labelOverlap":false,"title":"change in amplitude (μV)","titleFontSize":9.4,"titleFontWeight":"normal","titleColor":"#222","titlePadding":4,"labelFontSize":8.5,"labelColor":"#222","labelPadding":2,"tickSize":4,"tickWidth":1.5,"tickColor":"black","domainColor":"black","domainWidth":1.5,"labelExpr":"replace(datum.label, '−', '-')"}}}},
  {"mark":{"type":"tick","color":"black","thickness":2,"size":13},"encoding":{"x":{"field":"diff","type":"nominal","axis":null},"y":{"field":"lo","type":"quantitative","axis":{"values":[-16,-12,-8,-4,0,4,8],"labelOverlap":false,"title":"change in amplitude (μV)","titleFontSize":9.4,"titleFontWeight":"normal","titleColor":"#222","titlePadding":4,"labelFontSize":8.5,"labelColor":"#222","labelPadding":2,"tickSize":4,"tickWidth":1.5,"tickColor":"black","domainColor":"black","domainWidth":1.5,"labelExpr":"replace(datum.label, '−', '-')"}}}}
 ]}
]
}
